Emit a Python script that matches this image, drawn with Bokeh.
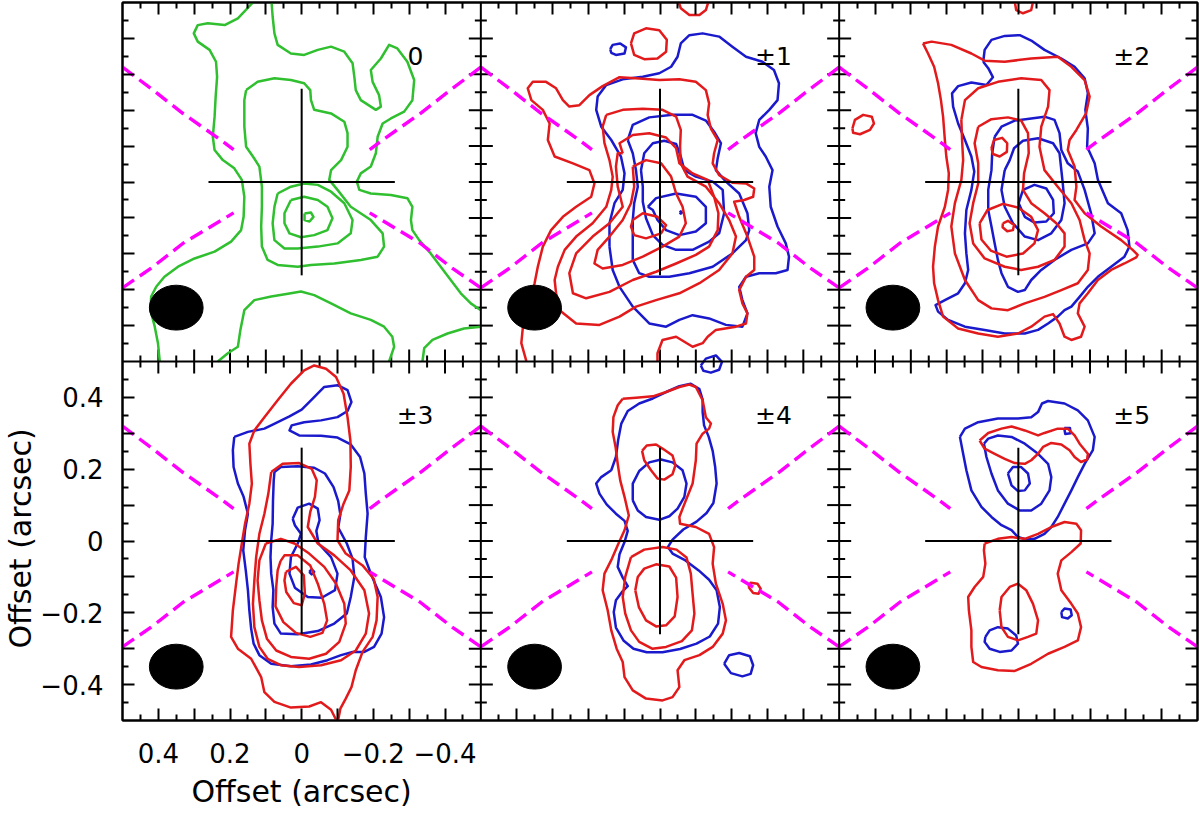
import math
from bokeh.plotting import figure
from bokeh.models import Range1d, FixedTicker, Span, LinearAxis, ColumnDataSource, Title
from bokeh.core.properties import value
from bokeh.embed import file_html
from bokeh.resources import INLINE

FONT = "DejaVu Sans"
GREEN = "#2fbf2f"
RED = "#e31a1c"
BLUE = "#1a1acc"
MAGENTA = "#ff00ff"

# ---------------- data (offsets in arcsec, panel-local) ----------------
PANEL_LABELS = ["0", "\u00b11", "\u00b12", "\u00b13", "\u00b14", "\u00b15"]
PANEL_COL = [0, 1, 2, 0, 1, 2]
PANEL_ROW = [1, 1, 1, 0, 0, 0]
LABEL_X = [-0.295, -0.265, -0.265, -0.265, -0.265, -0.265]
LABEL_Y = 0.35

BEAM_X, BEAM_Y, BEAM_W, BEAM_H = 0.35, -0.35, 0.15, 0.125
CROSS_HALF = 0.26

CAVITY_X = [0.50, 0.42, 0.33, 0.23, 0.19]
CAVITY_UPPER_Y = [0.32, 0.26, 0.19, 0.12, 0.09]
CAVITY_LOWER_Y = [-0.295, -0.24, -0.17, -0.11, -0.086]

X_TICK_LABELS = {0.4: "0.4", 0.2: "0.2", 0.0: "0", -0.2: "\u22120.2", -0.4: "\u22120.4"}
Y_TICK_LABELS = {0.4: "0.4", 0.2: "0.2", 0.0: "0", -0.2: "\u22120.2", -0.4: "\u22120.4"}
AXIS_TITLE = "Offset (arcsec)"

# ---- panel 0 (green, v = 0) ----
P0_G_OUTER_LEFT = [(0.136, 0.5), (0.178, 0.456), (0.215, 0.437), (0.262, 0.442), (0.290, 0.437), (0.301, 0.414),
                   (0.290, 0.391), (0.257, 0.368), (0.239, 0.335), (0.236, 0.293), (0.240, 0.238), (0.243, 0.182),
                   (0.248, 0.126), (0.243, 0.089), (0.220, 0.061), (0.188, 0.038), (0.167, 0.006), (0.160, -0.041),
                   (0.162, -0.097), (0.169, -0.134), (0.197, -0.166), (0.243, -0.194), (0.299, -0.213),
                   (0.345, -0.236), (0.383, -0.264), (0.406, -0.292), (0.420, -0.319), (0.422, -0.357),
                   (0.410, -0.403), (0.401, -0.449), (0.396, -0.5)]
P0_G_OUTER_RIGHT = [(0.084, 0.5), (0.081, 0.461), (0.076, 0.414), (0.067, 0.382), (0.030, 0.358), (-0.007, 0.354),
                    (-0.045, 0.368), (-0.082, 0.377), (-0.119, 0.363), (-0.142, 0.331), (-0.147, 0.293),
                    (-0.151, 0.256), (-0.165, 0.228), (-0.207, 0.201), (-0.221, 0.210), (-0.216, 0.242),
                    (-0.198, 0.279), (-0.193, 0.312), (-0.221, 0.344), (-0.244, 0.382), (-0.267, 0.372),
                    (-0.295, 0.335), (-0.314, 0.284), (-0.309, 0.228), (-0.286, 0.196), (-0.249, 0.177),
                    (-0.226, 0.163), (-0.212, 0.126), (-0.207, 0.080), (-0.193, 0.043), (-0.165, 0.024),
                    (-0.154, 0.001), (-0.161, -0.022), (-0.193, -0.032), (-0.249, -0.036), (-0.295, -0.045),
                    (-0.309, -0.069), (-0.305, -0.106), (-0.309, -0.134), (-0.328, -0.162), (-0.360, -0.199),
                    (-0.388, -0.236), (-0.416, -0.273), (-0.444, -0.310), (-0.472, -0.338), (-0.5, -0.357)]
P0_G_CORNER = [(-0.5, -0.403), (-0.453, -0.408), (-0.407, -0.422), (-0.365, -0.440), (-0.342, -0.463),
               (-0.337, -0.5)]
P0_G_BOTTOM = [(0.234, -0.5), (0.206, -0.477), (0.178, -0.459), (0.171, -0.412), (0.160, -0.357), (0.132, -0.329),
               (0.085, -0.319), (0.030, -0.310), (0.002, -0.305), (-0.035, -0.315), (-0.082, -0.338),
               (-0.137, -0.366), (-0.193, -0.384), (-0.230, -0.403), (-0.253, -0.431), (-0.258, -0.459),
               (-0.244, -0.5)]
P0_G_2 = [(0.155, 0.256), (0.123, 0.279), (0.076, 0.289), (0.030, 0.284), (-0.007, 0.275), (-0.024, 0.256),
          (-0.026, 0.228), (-0.035, 0.201), (-0.082, 0.191), (-0.119, 0.168), (-0.128, 0.136), (-0.128, 0.098),
          (-0.110, 0.061), (-0.082, 0.033), (-0.077, 0.006), (-0.100, -0.022), (-0.137, -0.069),
          (-0.193, -0.106), (-0.226, -0.143), (-0.230, -0.180), (-0.212, -0.208), (-0.165, -0.217),
          (-0.091, -0.227), (-0.026, -0.231), (0.011, -0.236), (0.067, -0.231), (0.095, -0.217),
          (0.111, -0.180), (0.113, -0.124), (0.111, -0.069), (0.111, -0.013), (0.118, 0.043), (0.136, 0.071),
          (0.155, 0.098), (0.160, 0.154), (0.160, 0.228)]
P0_G_3 = [(0.067, -0.032), (0.030, -0.013), (-0.007, -0.004), (-0.045, -0.008), (-0.082, -0.027),
          (-0.119, -0.059), (-0.142, -0.106), (-0.137, -0.143), (-0.100, -0.171), (-0.045, -0.180),
          (0.011, -0.185), (0.048, -0.185), (0.076, -0.162), (0.081, -0.115), (0.076, -0.069)]
P0_G_4 = [(0.030, -0.050), (-0.007, -0.041), (-0.045, -0.050), (-0.072, -0.069), (-0.086, -0.101),
          (-0.072, -0.134), (-0.035, -0.148), (0.002, -0.154), (0.034, -0.143), (0.048, -0.115), (0.048, -0.087)]
P0_G_5 = [(-0.008, -0.088), (-0.026, -0.085), (-0.033, -0.097), (-0.022, -0.110), (-0.008, -0.106)]

# ---- panel 1 (+-1) ----
P1_R_TOP = [(-0.052, 0.502), (-0.058, 0.484), (-0.082, 0.465), (-0.110, 0.465), (-0.128, 0.479), (-0.135, 0.502)]
P1_R_KNOT = [(0.081, 0.386), (0.072, 0.414), (0.039, 0.428), (0.002, 0.423), (-0.019, 0.396), (-0.017, 0.363),
             (0.007, 0.344), (0.044, 0.342), (0.072, 0.354)]
P1_B_KNOT = [(0.139, 0.370), (0.132, 0.382), (0.111, 0.386), (0.095, 0.375), (0.099, 0.358), (0.123, 0.354),
             (0.136, 0.360)]
P1_R_1 = [(0.373, -0.499), (0.387, -0.449), (0.383, -0.408), (0.364, -0.329), (0.350, -0.282), (0.341, -0.236),
          (0.327, -0.180), (0.304, -0.134), (0.271, -0.097), (0.234, -0.069), (0.192, -0.041), (0.183, -0.004),
          (0.197, 0.033), (0.243, 0.052), (0.294, 0.071), (0.313, 0.117), (0.308, 0.163), (0.327, 0.201),
          (0.359, 0.228), (0.369, 0.261), (0.355, 0.279), (0.318, 0.279), (0.290, 0.261), (0.271, 0.228),
          (0.253, 0.210), (0.225, 0.214), (0.197, 0.242), (0.160, 0.267), (0.113, 0.292), (0.058, 0.288),
          (0.002, 0.284), (-0.054, 0.286), (-0.100, 0.279), (-0.128, 0.256), (-0.137, 0.219), (-0.133, 0.187),
          (-0.142, 0.149), (-0.161, 0.117), (-0.151, 0.080), (-0.147, 0.052), (-0.165, 0.019), (-0.202, -0.002),
          (-0.240, -0.004), (-0.263, -0.018), (-0.260, -0.041), (-0.235, -0.050), (-0.207, -0.055),
          (-0.221, -0.097), (-0.244, -0.152), (-0.263, -0.208), (-0.263, -0.245), (-0.240, -0.264),
          (-0.221, -0.301), (-0.230, -0.338), (-0.244, -0.366), (-0.240, -0.394), (-0.212, -0.403),
          (-0.156, -0.412), (-0.133, -0.431), (-0.119, -0.449), (-0.091, -0.459), (-0.045, -0.431),
          (-0.007, -0.440), (0.007, -0.477), (0.007, -0.499)]
P1_R_2 = [(0.150, 0.187), (0.104, 0.201), (0.048, 0.204), (-0.007, 0.201), (-0.045, 0.182), (-0.058, 0.145),
          (-0.056, 0.098), (-0.058, 0.052), (-0.077, 0.015), (-0.128, -0.013), (-0.165, -0.059),
          (-0.193, -0.106), (-0.212, -0.152), (-0.202, -0.199), (-0.165, -0.245), (-0.110, -0.282),
          (-0.054, -0.310), (0.011, -0.329), (0.067, -0.347), (0.113, -0.375), (0.169, -0.398), (0.234, -0.394),
          (0.276, -0.361), (0.290, -0.310), (0.294, -0.273), (0.285, -0.236), (0.266, -0.189), (0.234, -0.152),
          (0.188, -0.115), (0.150, -0.069), (0.136, -0.022), (0.132, 0.015), (0.141, 0.061), (0.155, 0.108),
          (0.160, 0.154)]
P1_R_3 = [(0.104, 0.080), (0.113, 0.108), (0.076, 0.131), (0.030, 0.136), (-0.017, 0.124), (-0.045, 0.094),
          (-0.054, 0.052), (-0.091, 0.024), (-0.133, 0.006), (-0.151, -0.041), (-0.163, -0.087),
          (-0.161, -0.134), (-0.137, -0.180), (-0.100, -0.203), (-0.045, -0.227), (0.011, -0.250),
          (0.076, -0.273), (0.141, -0.306), (0.206, -0.324), (0.243, -0.310), (0.253, -0.254), (0.234, -0.199),
          (0.188, -0.152), (0.141, -0.115), (0.104, -0.069), (0.118, -0.013), (0.123, 0.043), (0.118, 0.080)]
P1_R_4 = [(0.076, 0.043), (0.039, 0.061), (-0.003, 0.052), (-0.031, 0.015), (-0.045, -0.032), (-0.063, -0.069),
          (-0.072, -0.115), (-0.054, -0.152), (-0.007, -0.180), (0.048, -0.208), (0.104, -0.231),
          (0.160, -0.241), (0.183, -0.227), (0.174, -0.189), (0.141, -0.152), (0.104, -0.106), (0.081, -0.059),
          (0.072, -0.013)]
P1_R_5 = [(0.076, -0.106), (0.048, -0.087), (0.007, -0.097), (-0.017, -0.120), (-0.003, -0.143), (0.039, -0.157),
          (0.072, -0.148), (0.081, -0.124)]
P1_B_1 = [(0.141, -0.180), (0.132, -0.245), (0.113, -0.292), (0.076, -0.347), (0.030, -0.394), (-0.017, -0.403),
          (-0.054, -0.384), (-0.091, -0.371), (-0.137, -0.380), (-0.184, -0.398), (-0.230, -0.403),
          (-0.244, -0.366), (-0.230, -0.329), (-0.221, -0.292), (-0.240, -0.264), (-0.277, -0.254),
          (-0.323, -0.254), (-0.356, -0.245), (-0.360, -0.208), (-0.351, -0.171), (-0.328, -0.124),
          (-0.309, -0.069), (-0.305, -0.013), (-0.314, 0.033), (-0.295, 0.071), (-0.277, 0.098),
          (-0.267, 0.136), (-0.277, 0.173), (-0.305, 0.201), (-0.328, 0.228), (-0.332, 0.275), (-0.318, 0.312),
          (-0.286, 0.335), (-0.240, 0.349), (-0.202, 0.377), (-0.165, 0.405), (-0.119, 0.414), (-0.082, 0.409),
          (-0.058, 0.386), (-0.049, 0.349), (-0.031, 0.321), (0.002, 0.303), (0.048, 0.293), (0.104, 0.286),
          (0.150, 0.270), (0.174, 0.238), (0.178, 0.201), (0.164, 0.154), (0.136, 0.117), (0.109, 0.071),
          (0.099, 0.024), (0.104, -0.022), (0.127, -0.059), (0.141, -0.115)]
P1_B_2 = [(0.090, 0.117), (0.076, 0.159), (0.030, 0.180), (-0.035, 0.187), (-0.091, 0.187), (-0.128, 0.171),
          (-0.151, 0.140), (-0.170, 0.108), (-0.161, 0.066), (-0.156, 0.033), (-0.184, 0.001), (-0.221, -0.032),
          (-0.244, -0.087), (-0.249, -0.134), (-0.240, -0.162), (-0.202, -0.199), (-0.147, -0.236),
          (-0.082, -0.254), (-0.026, -0.264), (0.030, -0.264), (0.058, -0.254), (0.076, -0.217),
          (0.076, -0.152), (0.076, -0.106), (0.072, -0.059), (0.062, -0.013), (0.067, 0.033), (0.076, 0.080)]
P1_B_3 = [(0.053, 0.033), (0.044, 0.080), (0.020, 0.108), (-0.012, 0.115), (-0.045, 0.106), (-0.058, 0.071),
          (-0.068, 0.033), (-0.100, 0.015), (-0.147, 0.001), (-0.175, -0.022), (-0.179, -0.087),
          (-0.165, -0.143), (-0.137, -0.166), (-0.091, -0.189), (-0.045, -0.189), (-0.007, -0.175),
          (0.020, -0.148), (0.039, -0.101), (0.048, -0.055), (0.048, -0.013)]
P1_B_4 = [(0.034, -0.069), (0.011, -0.045), (-0.045, -0.032), (-0.100, -0.041), (-0.128, -0.069),
          (-0.128, -0.115), (-0.100, -0.138), (-0.054, -0.148), (-0.017, -0.134), (0.007, -0.106),
          (0.020, -0.078)]
P1_B_5 = [(-0.055, -0.085), (-0.058, -0.082), (-0.061, -0.085), (-0.058, -0.088)]

# ---- panel 2 (+-2) ----
P2_R_TOP = [(0.010, 0.502), (0.006, 0.479), (-0.013, 0.470), (-0.036, 0.479), (-0.041, 0.502)]
P2_R_KNOT = [(0.463, 0.149), (0.456, 0.173), (0.433, 0.187), (0.409, 0.182), (0.403, 0.163), (0.414, 0.145),
             (0.442, 0.133), (0.461, 0.137)]
P2_R_1 = [(0.266, 0.386), (0.242, 0.391), (0.187, 0.382), (0.131, 0.358), (0.094, 0.338), (0.038, 0.335),
          (-0.036, 0.344), (-0.110, 0.349), (-0.148, 0.321), (-0.185, 0.284), (-0.199, 0.238), (-0.189, 0.191),
          (-0.162, 0.145), (-0.143, 0.117), (-0.138, 0.089), (-0.157, 0.043), (-0.162, -0.013), (-0.157, -0.050),
          (-0.185, -0.087), (-0.231, -0.124), (-0.287, -0.162), (-0.319, -0.189), (-0.333, -0.203),
          (-0.329, -0.210), (-0.296, -0.227), (-0.259, -0.245), (-0.222, -0.273), (-0.194, -0.310),
          (-0.171, -0.338), (-0.166, -0.366), (-0.185, -0.403), (-0.175, -0.431), (-0.148, -0.440),
          (-0.129, -0.431), (-0.115, -0.394), (-0.097, -0.368), (-0.073, -0.375), (-0.036, -0.403),
          (0.001, -0.422), (0.057, -0.431), (0.112, -0.422), (0.168, -0.408), (0.210, -0.375), (0.224, -0.329),
          (0.235, -0.282), (0.238, -0.236), (0.233, -0.180), (0.224, -0.124), (0.205, -0.069), (0.196, -0.022),
          (0.194, 0.024), (0.201, 0.071), (0.205, 0.117), (0.210, 0.182), (0.216, 0.228), (0.224, 0.275),
          (0.235, 0.321), (0.252, 0.358)]
P2_R_2 = [(0.159, 0.173), (0.149, 0.228), (0.112, 0.261), (0.057, 0.279), (-0.008, 0.289), (-0.064, 0.284),
          (-0.087, 0.256), (-0.083, 0.210), (-0.064, 0.154), (-0.059, 0.098), (-0.073, 0.033), (-0.110, -0.013),
          (-0.148, -0.059), (-0.171, -0.106), (-0.185, -0.162), (-0.199, -0.199), (-0.194, -0.245),
          (-0.166, -0.282), (-0.120, -0.301), (-0.073, -0.320), (-0.018, -0.338), (0.029, -0.357),
          (0.075, -0.352), (0.112, -0.329), (0.149, -0.273), (0.177, -0.199), (0.187, -0.124), (0.177, -0.059),
          (0.159, 0.006), (0.154, 0.061), (0.157, 0.117)]
P2_R_3 = [(0.112, 0.154), (0.075, 0.175), (0.029, 0.180), (-0.008, 0.171), (-0.027, 0.136), (-0.029, 0.080),
          (-0.016, 0.024), (-0.013, -0.022), (-0.036, -0.059), (-0.073, -0.087), (-0.106, -0.115),
          (-0.129, -0.143), (-0.129, -0.180), (-0.101, -0.217), (-0.055, -0.236), (-0.008, -0.245),
          (0.038, -0.236), (0.094, -0.213), (0.126, -0.171), (0.136, -0.115), (0.126, -0.059), (0.112, -0.004),
          (0.112, 0.052), (0.122, 0.108)]
P2_R_4 = [(0.108, -0.115), (0.086, -0.078), (0.043, -0.061), (0.001, -0.071), (-0.036, -0.097), (-0.055, -0.134),
          (-0.045, -0.171), (-0.013, -0.199), (0.033, -0.208), (0.077, -0.191), (0.103, -0.160)]
P2_R_5 = [(0.043, -0.115), (0.029, -0.108), (0.012, -0.120), (0.015, -0.134), (0.031, -0.137), (0.044, -0.126)]
P2_R_6 = [(0.075, 0.094), (0.068, 0.117), (0.045, 0.123), (0.031, 0.108), (0.032, 0.084), (0.052, 0.071),
          (0.071, 0.078)]
P2_B_1 = [(0.098, 0.335), (0.094, 0.368), (0.075, 0.396), (0.038, 0.407), (-0.004, 0.409), (-0.036, 0.394),
          (-0.073, 0.368), (-0.120, 0.344), (-0.157, 0.321), (-0.185, 0.289), (-0.194, 0.247), (-0.187, 0.201),
          (-0.194, 0.149), (-0.192, 0.098), (-0.213, 0.052), (-0.222, 0.006), (-0.250, -0.059), (-0.287, -0.087),
          (-0.305, -0.134), (-0.310, -0.180), (-0.296, -0.208), (-0.259, -0.236), (-0.222, -0.264),
          (-0.194, -0.292), (-0.171, -0.320), (-0.148, -0.347), (-0.129, -0.357), (-0.110, -0.375),
          (-0.083, -0.394), (-0.055, -0.412), (-0.018, -0.422), (0.038, -0.422), (0.094, -0.412),
          (0.149, -0.403), (0.196, -0.384), (0.224, -0.361), (0.231, -0.343), (0.205, -0.329), (0.168, -0.310),
          (0.149, -0.282), (0.140, -0.245), (0.145, -0.199), (0.149, -0.143), (0.145, -0.078), (0.131, -0.022),
          (0.123, 0.029), (0.131, 0.071), (0.149, 0.117), (0.168, 0.163), (0.182, 0.210), (0.185, 0.247),
          (0.168, 0.267), (0.131, 0.277), (0.089, 0.270), (0.071, 0.292), (0.084, 0.317)]
P2_B_2 = [(0.066, 0.126), (0.047, 0.154), (0.010, 0.171), (-0.036, 0.177), (-0.073, 0.182), (-0.101, 0.173),
          (-0.115, 0.136), (-0.120, 0.089), (-0.138, 0.052), (-0.166, 0.029), (-0.185, -0.022), (-0.203, -0.087),
          (-0.213, -0.143), (-0.194, -0.171), (-0.148, -0.189), (-0.101, -0.217), (-0.064, -0.245),
          (-0.036, -0.273), (-0.018, -0.301), (0.001, -0.306), (0.029, -0.292), (0.047, -0.254),
          (0.057, -0.217), (0.066, -0.171), (0.075, -0.124), (0.084, -0.078), (0.084, -0.022), (0.075, 0.033),
          (0.073, 0.080)]
P2_B_3 = [(0.038, 0.033), (0.047, -0.022), (0.038, -0.069), (0.015, -0.115), (-0.018, -0.152), (-0.055, -0.162),
          (-0.092, -0.143), (-0.120, -0.106), (-0.129, -0.059), (-0.124, -0.004), (-0.120, 0.033),
          (-0.115, 0.080), (-0.097, 0.108), (-0.055, 0.122), (-0.013, 0.115), (0.012, 0.094), (0.024, 0.061)]
P2_B_4 = [(-0.001, -0.059), (-0.013, -0.022), (-0.045, -0.008), (-0.078, -0.018), (-0.097, -0.050),
          (-0.099, -0.087), (-0.078, -0.110), (-0.045, -0.113), (-0.018, -0.097)]

# ---- panel 3 (+-3) ----
P3_R_1 = [(-0.096, -0.498), (-0.082, -0.470), (-0.054, -0.449), (-0.021, -0.461), (0.030, -0.464),
          (0.076, -0.448), (0.104, -0.421), (0.113, -0.379), (0.141, -0.328), (0.178, -0.300), (0.197, -0.267),
          (0.192, -0.193), (0.183, -0.119), (0.176, -0.063), (0.167, -0.007), (0.158, 0.048), (0.146, 0.104),
          (0.139, 0.160), (0.143, 0.215), (0.146, 0.271), (0.132, 0.308), (0.104, 0.345), (0.067, 0.392),
          (0.030, 0.438), (-0.007, 0.475), (-0.035, 0.489), (-0.068, 0.480), (-0.096, 0.457), (-0.117, 0.410),
          (-0.128, 0.345), (-0.136, 0.280), (-0.137, 0.206), (-0.133, 0.141), (-0.117, 0.104), (-0.102, 0.058),
          (-0.100, 0.002), (-0.123, -0.035), (-0.170, -0.068), (-0.201, -0.105), (-0.212, -0.156),
          (-0.209, -0.221), (-0.198, -0.267), (-0.170, -0.309), (-0.151, -0.360), (-0.139, -0.407),
          (-0.123, -0.439), (-0.108, -0.467), (-0.102, -0.498)]
P3_R_2 = [(0.085, 0.192), (0.053, 0.215), (0.007, 0.217), (-0.028, 0.201), (-0.042, 0.169), (-0.037, 0.123),
          (-0.024, 0.081), (-0.017, 0.039), (-0.045, -0.007), (-0.091, -0.040), (-0.137, -0.082),
          (-0.175, -0.137), (-0.188, -0.202), (-0.179, -0.258), (-0.151, -0.305), (-0.110, -0.332),
          (-0.054, -0.346), (0.007, -0.351), (0.058, -0.346), (0.095, -0.328), (0.118, -0.295),
          (0.132, -0.240), (0.136, -0.175), (0.132, -0.110), (0.127, -0.045), (0.118, 0.020), (0.104, 0.076),
          (0.093, 0.132)]
P3_R_3 = [(0.100, -0.007), (0.058, 0.006), (0.020, -0.007), (-0.021, -0.035), (-0.063, -0.072), (-0.096, -0.119),
          (-0.119, -0.175), (-0.123, -0.230), (-0.105, -0.281), (-0.068, -0.314), (-0.021, -0.328),
          (0.030, -0.323), (0.071, -0.305), (0.097, -0.272), (0.111, -0.221), (0.118, -0.165), (0.123, -0.110),
          (0.118, -0.054)]
P3_R_4 = [(0.059, -0.056), (0.048, -0.040), (0.011, -0.040), (-0.024, -0.068), (-0.045, -0.119), (-0.063, -0.175),
          (-0.071, -0.221), (-0.058, -0.256), (-0.024, -0.267), (0.016, -0.256), (0.051, -0.226),
          (0.073, -0.182), (0.071, -0.128), (0.067, -0.082)]
P3_R_5 = [(0.044, -0.086), (0.016, -0.072), (-0.006, -0.096), (-0.009, -0.147), (0.000, -0.179), (0.022, -0.173),
          (0.043, -0.142), (0.048, -0.110)]
P3_B_1 = [(0.188, 0.290), (0.150, 0.304), (0.104, 0.313), (0.071, 0.329), (0.034, 0.347), (0.000, 0.366),
          (-0.028, 0.394), (-0.063, 0.429), (-0.100, 0.434), (-0.128, 0.420), (-0.139, 0.387), (-0.128, 0.362),
          (-0.100, 0.345), (-0.054, 0.336), (-0.007, 0.331), (0.028, 0.322), (0.034, 0.308), (0.007, 0.294),
          (-0.054, 0.293), (-0.100, 0.288), (-0.137, 0.269), (-0.163, 0.234), (-0.175, 0.188), (-0.179, 0.132),
          (-0.184, 0.076), (-0.179, 0.011), (-0.176, -0.045), (-0.195, -0.096), (-0.221, -0.156),
          (-0.230, -0.212), (-0.223, -0.258), (-0.202, -0.295), (-0.175, -0.309), (-0.142, -0.309),
          (-0.110, -0.318), (-0.072, -0.332), (-0.026, -0.344), (0.030, -0.349), (0.085, -0.342),
          (0.118, -0.318), (0.134, -0.286), (0.141, -0.244), (0.146, -0.193), (0.150, -0.137), (0.156, -0.082),
          (0.163, -0.026), (0.158, 0.030), (0.150, 0.076), (0.162, 0.123), (0.178, 0.160), (0.190, 0.206),
          (0.192, 0.253)]
P3_B_2 = [(0.076, 0.192), (0.058, 0.206), (0.011, 0.208), (-0.035, 0.204), (-0.065, 0.188), (-0.089, 0.150),
          (-0.102, 0.111), (-0.108, 0.074), (-0.102, 0.037), (-0.126, -0.007), (-0.142, -0.049),
          (-0.147, -0.100), (-0.137, -0.156), (-0.126, -0.202), (-0.091, -0.230), (-0.045, -0.251),
          (0.011, -0.260), (0.058, -0.258), (0.076, -0.230), (0.081, -0.184), (0.079, -0.137), (0.085, -0.091),
          (0.087, -0.045), (0.085, 0.002), (0.081, 0.048), (0.080, 0.113), (0.078, 0.169)]
P3_B_3 = [(0.025, 0.062), (0.011, 0.093), (-0.021, 0.104), (-0.045, 0.090), (-0.050, 0.058), (-0.041, 0.028),
          (-0.047, -0.007), (-0.082, -0.045), (-0.100, -0.091), (-0.093, -0.137), (-0.056, -0.158),
          (-0.017, -0.156), (0.019, -0.130), (0.034, -0.091), (0.030, -0.045), (0.011, -0.007), (0.002, 0.020),
          (0.019, 0.044)]
P3_B_4 = [(-0.021, -0.086), (-0.028, -0.079), (-0.035, -0.086), (-0.028, -0.093)]

# ---- panel 4 (+-4) ----
P4_R_1 = [(0.104, 0.396), (0.067, 0.399), (0.020, 0.403), (-0.017, 0.415), (-0.054, 0.429), (-0.082, 0.436),
          (-0.100, 0.429), (-0.119, 0.392), (-0.128, 0.345), (-0.142, 0.327), (-0.137, 0.313), (-0.119, 0.299),
          (-0.102, 0.271), (-0.100, 0.225), (-0.091, 0.160), (-0.072, 0.113), (-0.054, 0.067), (-0.056, 0.048),
          (-0.100, 0.039), (-0.137, 0.020), (-0.151, -0.017), (-0.147, -0.063), (-0.156, -0.119),
          (-0.175, -0.175), (-0.184, -0.221), (-0.175, -0.258), (-0.147, -0.295), (-0.110, -0.318),
          (-0.068, -0.332), (-0.049, -0.360), (-0.054, -0.407), (-0.035, -0.435), (-0.007, -0.444),
          (0.039, -0.439), (0.076, -0.416), (0.099, -0.379), (0.104, -0.337), (0.121, -0.300), (0.136, -0.249),
          (0.146, -0.193), (0.160, -0.137), (0.155, -0.091), (0.134, -0.049), (0.118, -0.012), (0.099, 0.030),
          (0.087, 0.071), (0.099, 0.123), (0.111, 0.169), (0.118, 0.215), (0.124, 0.262), (0.132, 0.304),
          (0.130, 0.345), (0.118, 0.378)]
P4_R_2 = [(0.081, -0.045), (0.044, -0.024), (-0.007, -0.017), (-0.046, -0.024), (-0.074, -0.046),
          (-0.086, -0.091), (-0.091, -0.147), (-0.096, -0.202), (-0.089, -0.249), (-0.061, -0.279),
          (-0.017, -0.295), (0.022, -0.300), (0.058, -0.281), (0.081, -0.249), (0.097, -0.202), (0.104, -0.156),
          (0.097, -0.100)]
P4_R_3 = [(0.069, -0.137), (0.062, -0.100), (0.044, -0.077), (0.011, -0.065), (-0.026, -0.071), (-0.045, -0.102),
          (-0.049, -0.156), (-0.041, -0.210), (-0.017, -0.235), (0.011, -0.238), (0.039, -0.221),
          (0.059, -0.184)]
P4_R_4 = [(0.050, 0.251), (0.037, 0.266), (0.011, 0.269), (-0.009, 0.256), (-0.035, 0.238), (-0.043, 0.211),
          (-0.035, 0.186), (-0.012, 0.171), (0.007, 0.174), (0.025, 0.197), (0.044, 0.225)]
P4_R_5 = [(-0.247, -0.128), (-0.253, -0.116), (-0.272, -0.119), (-0.281, -0.133), (-0.275, -0.147),
          (-0.260, -0.145)]
P4_B_1 = [(0.136, 0.197), (0.164, 0.178), (0.178, 0.160), (0.169, 0.132), (0.149, 0.102), (0.123, 0.076),
          (0.099, 0.056), (0.090, 0.028), (0.099, -0.003), (0.113, -0.037), (0.118, -0.072), (0.104, -0.102),
          (0.090, -0.126), (0.106, -0.142), (0.123, -0.165), (0.129, -0.198), (0.123, -0.241), (0.102, -0.277),
          (0.074, -0.300), (0.037, -0.310), (-0.007, -0.310), (-0.056, -0.301), (-0.102, -0.286),
          (-0.139, -0.266), (-0.162, -0.230), (-0.167, -0.184), (-0.158, -0.137), (-0.137, -0.108),
          (-0.108, -0.082), (-0.071, -0.054), (-0.035, -0.035), (-0.022, -0.017), (-0.035, 0.004),
          (-0.065, 0.032), (-0.102, 0.054), (-0.130, 0.078), (-0.149, 0.106), (-0.158, 0.160), (-0.154, 0.206),
          (-0.147, 0.251), (-0.136, 0.290), (-0.123, 0.322), (-0.119, 0.359), (-0.119, 0.394), (-0.110, 0.423),
          (-0.086, 0.438), (-0.054, 0.431), (-0.017, 0.415), (0.020, 0.397), (0.058, 0.383), (0.090, 0.362),
          (0.108, 0.327), (0.117, 0.280), (0.123, 0.234)]
P4_B_2 = [(0.076, 0.113), (0.076, 0.160), (0.058, 0.195), (0.030, 0.219), (-0.003, 0.227), (-0.035, 0.219),
          (-0.063, 0.197), (-0.074, 0.160), (-0.068, 0.123), (-0.049, 0.090), (-0.026, 0.069), (0.002, 0.059),
          (0.039, 0.067), (0.062, 0.085)]
P4_B_3 = [(-0.179, -0.342), (-0.193, -0.318), (-0.221, -0.312), (-0.251, -0.321), (-0.260, -0.346),
          (-0.253, -0.370), (-0.230, -0.377), (-0.198, -0.368)]
P4_B_4 = [(-0.114, 0.489), (-0.128, 0.508), (-0.156, 0.517), (-0.173, 0.499), (-0.165, 0.477), (-0.142, 0.469),
          (-0.121, 0.474)]

# ---- panel 5 (+-5) ----
P5_R_1 = [(0.108, 0.280), (0.084, 0.301), (0.047, 0.313), (0.019, 0.319), (-0.018, 0.308), (-0.055, 0.294),
          (-0.073, 0.301), (-0.110, 0.313), (-0.138, 0.313), (-0.157, 0.294), (-0.171, 0.271), (-0.194, 0.243),
          (-0.192, 0.227), (-0.175, 0.220), (-0.157, 0.234), (-0.143, 0.253), (-0.120, 0.269), (-0.092, 0.273),
          (-0.069, 0.262), (-0.055, 0.243), (-0.036, 0.225), (-0.018, 0.215), (0.010, 0.217), (0.038, 0.229),
          (0.066, 0.243), (0.094, 0.257)]
P5_R_2 = [(0.094, -0.007), (0.057, 0.006), (0.019, 0.011), (-0.018, 0.006), (-0.055, 0.020), (-0.092, 0.039),
          (-0.129, 0.053), (-0.162, 0.048), (-0.175, 0.030), (-0.174, -0.007), (-0.148, -0.031),
          (-0.120, -0.054), (-0.110, -0.091), (-0.120, -0.137), (-0.148, -0.175), (-0.166, -0.202),
          (-0.175, -0.240), (-0.166, -0.277), (-0.129, -0.295), (-0.083, -0.314), (-0.036, -0.342),
          (0.010, -0.362), (0.057, -0.360), (0.103, -0.351), (0.126, -0.337), (0.131, -0.295), (0.131, -0.249),
          (0.138, -0.193), (0.140, -0.156), (0.122, -0.128), (0.098, -0.100), (0.092, -0.063), (0.096, -0.026)]
P5_R_3 = [(0.052, -0.193), (0.047, -0.156), (0.024, -0.128), (0.001, -0.119), (-0.022, -0.137), (-0.041, -0.175),
          (-0.055, -0.221), (-0.050, -0.258), (-0.027, -0.267), (0.001, -0.277), (0.029, -0.267),
          (0.047, -0.240)]
P5_B_1 = [(0.163, 0.290), (0.149, 0.313), (0.112, 0.331), (0.057, 0.341), (0.001, 0.341), (-0.036, 0.345),
          (-0.055, 0.359), (-0.066, 0.383), (-0.083, 0.390), (-0.129, 0.383), (-0.166, 0.364), (-0.194, 0.336),
          (-0.213, 0.290), (-0.208, 0.253), (-0.185, 0.215), (-0.166, 0.178), (-0.148, 0.141), (-0.129, 0.104),
          (-0.110, 0.067), (-0.092, 0.039), (-0.073, 0.020), (-0.045, 0.006), (-0.022, 0.004), (0.001, 0.011),
          (0.019, 0.030), (0.047, 0.044), (0.075, 0.067), (0.103, 0.095), (0.131, 0.141), (0.145, 0.197),
          (0.154, 0.243)]
P5_B_2 = [(0.096, 0.271), (0.084, 0.285), (0.057, 0.294), (0.019, 0.290), (-0.018, 0.271), (-0.055, 0.243),
          (-0.083, 0.215), (-0.092, 0.178), (-0.087, 0.141), (-0.064, 0.104), (-0.036, 0.085), (-0.004, 0.085),
          (0.029, 0.104), (0.057, 0.141), (0.075, 0.188), (0.089, 0.234)]
P5_B_3 = [(0.029, 0.188), (0.015, 0.206), (-0.008, 0.206), (-0.027, 0.188), (-0.032, 0.160), (-0.018, 0.141),
          (0.001, 0.139), (0.019, 0.155)]
P5_B_4 = [(-0.128, 0.315), (-0.144, 0.315), (-0.146, 0.300), (-0.131, 0.298)]
P5_B_5 = [(-0.120, -0.198), (-0.129, -0.188), (-0.146, -0.191), (-0.149, -0.207), (-0.138, -0.216),
          (-0.122, -0.212)]
P5_B_6 = [(0.092, -0.267), (0.080, -0.249), (0.057, -0.240), (0.029, -0.244), (0.006, -0.263), (0.001, -0.286),
          (0.019, -0.305), (0.052, -0.309), (0.080, -0.300), (0.094, -0.281)]

# (panel, colour, closed, contour)
CONTOURS = [
    (0, GREEN, False, P0_G_OUTER_LEFT), (0, GREEN, False, P0_G_OUTER_RIGHT), (0, GREEN, False, P0_G_CORNER),
    (0, GREEN, False, P0_G_BOTTOM), (0, GREEN, True, P0_G_2), (0, GREEN, True, P0_G_3), (0, GREEN, True, P0_G_4),
    (0, GREEN, True, P0_G_5),
    (1, BLUE, True, P1_B_1), (1, BLUE, True, P1_B_2), (1, BLUE, True, P1_B_3), (1, BLUE, True, P1_B_4),
    (1, BLUE, True, P1_B_5), (1, BLUE, True, P1_B_KNOT),
    (1, RED, False, P1_R_TOP), (1, RED, True, P1_R_KNOT), (1, RED, False, P1_R_1), (1, RED, True, P1_R_2),
    (1, RED, True, P1_R_3), (1, RED, True, P1_R_4), (1, RED, True, P1_R_5),
    (2, BLUE, True, P2_B_1), (2, BLUE, True, P2_B_2), (2, BLUE, True, P2_B_3), (2, BLUE, True, P2_B_4),
    (2, RED, False, P2_R_TOP), (2, RED, True, P2_R_KNOT), (2, RED, True, P2_R_1), (2, RED, True, P2_R_2),
    (2, RED, True, P2_R_3), (2, RED, True, P2_R_4), (2, RED, True, P2_R_5), (2, RED, True, P2_R_6),
    (3, BLUE, True, P3_B_1), (3, BLUE, True, P3_B_2), (3, BLUE, True, P3_B_3), (3, BLUE, True, P3_B_4),
    (3, RED, False, P3_R_1), (3, RED, True, P3_R_2), (3, RED, True, P3_R_3), (3, RED, True, P3_R_4),
    (3, RED, True, P3_R_5),
    (4, BLUE, True, P4_B_1), (4, BLUE, True, P4_B_2), (4, BLUE, True, P4_B_3), (4, BLUE, True, P4_B_4),
    (4, RED, True, P4_R_1), (4, RED, True, P4_R_2), (4, RED, True, P4_R_3), (4, RED, True, P4_R_4),
    (4, RED, True, P4_R_5),
    (5, BLUE, True, P5_B_1), (5, BLUE, True, P5_B_2), (5, BLUE, True, P5_B_3), (5, BLUE, True, P5_B_4),
    (5, BLUE, True, P5_B_5), (5, BLUE, True, P5_B_6),
    (5, RED, True, P5_R_1), (5, RED, True, P5_R_2), (5, RED, True, P5_R_3),
]

# ---------------- figure ----------------
p = figure(width=1200, height=820, x_range=Range1d(0.5, -2.5), y_range=Range1d(-0.5, 1.5),
           output_backend="svg", toolbar_location=None,
           min_border_left=120, min_border_right=3, min_border_top=2, min_border_bottom=100)
p.grid.visible = False
p.outline_line_color = "black"
p.outline_line_width = 2
p.background_fill_color = "white"

ncols, nrows = 3, 2
x_major = [round(-c + 0.1 * k, 3) for c in range(ncols) for k in range(-4, 5)]
x_minor = [round(-c + 0.05 * k, 3) for c in range(ncols) for k in range(-9, 10, 2)]
y_major = [round(r + 0.1 * k, 3) for r in range(nrows) for k in range(-4, 5)]
y_minor = [round(r + 0.05 * k, 3) for r in range(nrows) for k in range(-9, 10, 2)]

x_over = {t: "" for t in x_major}
for t, s in X_TICK_LABELS.items():
    x_over[t] = s
y_over = {t: "" for t in y_major}
for t, s in Y_TICK_LABELS.items():
    y_over[t] = s


def style_axis(ax, labelled):
    ax.axis_line_width = 2
    ax.major_tick_in = 12
    ax.major_tick_out = 0
    ax.minor_tick_in = 6
    ax.minor_tick_out = 0
    ax.major_tick_line_width = 2
    ax.minor_tick_line_width = 2
    if labelled:
        ax.major_label_text_font = FONT
        ax.major_label_text_font_size = "26px"
        ax.major_label_text_color = "black"
    else:
        ax.major_label_text_font_size = "0px"
        ax.major_label_standoff = 0


p.xaxis.ticker = FixedTicker(ticks=x_major, minor_ticks=x_minor)
p.xaxis.major_label_overrides = x_over
p.yaxis.ticker = FixedTicker(ticks=y_major, minor_ticks=y_minor)
p.yaxis.major_label_overrides = y_over
style_axis(p.xaxis[0], True)
style_axis(p.yaxis[0], True)
p.xaxis.major_label_standoff = 22
p.yaxis.major_label_standoff = 19
p.yaxis.major_label_orientation = "horizontal"

top_ax = LinearAxis(ticker=FixedTicker(ticks=x_major, minor_ticks=x_minor),
                    major_label_overrides={t: "" for t in x_major})
right_ax = LinearAxis(ticker=FixedTicker(ticks=y_major, minor_ticks=y_minor),
                      major_label_overrides={t: "" for t in y_major})
style_axis(top_ax, False)
style_axis(right_ax, False)
p.add_layout(top_ax, "above")
p.add_layout(right_ax, "right")

# axis titles, placed under / beside the labelled bottom-left panel
p.add_layout(Title(text=AXIS_TITLE, align="left", offset=69, standoff=12, text_font=FONT,
                   text_font_size="30px", text_font_style="normal", text_color="black"), "below")
p.add_layout(Title(text=AXIS_TITLE, align="left", offset=72, standoff=0, text_font=FONT,
                   text_font_size="30px", text_font_style="normal", text_color="black"), "left")

# panel separators
for xb in (-0.5, -1.5):
    p.add_layout(Span(location=xb, dimension="height", line_color="black", line_width=2))
p.add_layout(Span(location=0.5, dimension="width", line_color="black", line_width=2))

# ticks on inner panel edges (both sides)
rx, ry, rl, ra = [], [], [], []
for xb in (-0.5, -1.5):
    for ticks, ln in ((y_major, 12), (y_minor, 6)):
        for t in ticks:
            for ang in (0.0, math.pi):
                rx.append(xb); ry.append(t); rl.append(ln); ra.append(ang)
for yb in (0.5,):
    for ticks, ln in ((x_major, 12), (x_minor, 6)):
        for t in ticks:
            for ang in (math.pi / 2, -math.pi / 2):
                rx.append(t); ry.append(yb); rl.append(ln); ra.append(ang)
p.ray(x="x", y="y", length="l", angle="a", length_units="screen",
      source=ColumnDataSource(dict(x=rx, y=ry, l=rl, a=ra)), line_color="black", line_width=2)

# contours
for colour in (GREEN, BLUE, RED):
    xs, ys = [], []
    for (pi_, col, closed, pts) in CONTOURS:
        if col != colour:
            continue
        ox, oy = -PANEL_COL[pi_], PANEL_ROW[pi_]
        cx = [ox + q[0] for q in pts]
        cy = [oy + q[1] for q in pts]
        if closed:
            cx.append(cx[0]); cy.append(cy[0])
        xs.append(cx); ys.append(cy)
    p.multi_line(xs=xs, ys=ys, line_color=colour, line_width=2.5, line_join="round")

# cavity (magenta dashed) curves, crosses, beams, labels
cav_xs, cav_ys = [], []
for i in range(6):
    ox, oy = -PANEL_COL[i], PANEL_ROW[i]
    for sgn in (1, -1):
        for yy in (CAVITY_UPPER_Y, CAVITY_LOWER_Y):
            cav_xs.append([ox + sgn * v for v in CAVITY_X])
            cav_ys.append([oy + v for v in yy])
p.multi_line(xs=cav_xs, ys=cav_ys, line_color=MAGENTA, line_width=3.4, line_dash="14 7")

seg = dict(x0=[], y0=[], x1=[], y1=[])
for i in range(6):
    ox, oy = -PANEL_COL[i], PANEL_ROW[i]
    seg["x0"] += [ox + CROSS_HALF, ox]
    seg["y0"] += [oy, oy + CROSS_HALF]
    seg["x1"] += [ox - CROSS_HALF, ox]
    seg["y1"] += [oy, oy - CROSS_HALF]
p.segment(x0="x0", y0="y0", x1="x1", y1="y1", source=ColumnDataSource(seg), line_color="black", line_width=2)

p.ellipse(x=[-PANEL_COL[i] + BEAM_X for i in range(6)], y=[PANEL_ROW[i] + BEAM_Y for i in range(6)],
          width=BEAM_W, height=BEAM_H, fill_color="black", line_color="black")

p.text(x=[-PANEL_COL[i] + LABEL_X[i] for i in range(6)], y=[PANEL_ROW[i] + LABEL_Y for i in range(6)],
       text=PANEL_LABELS, text_font=value(FONT), text_font_size=value("25px"),
       text_align="left", text_baseline="middle", text_color="black")

open("out.html", "w").write(file_html(p, INLINE))
